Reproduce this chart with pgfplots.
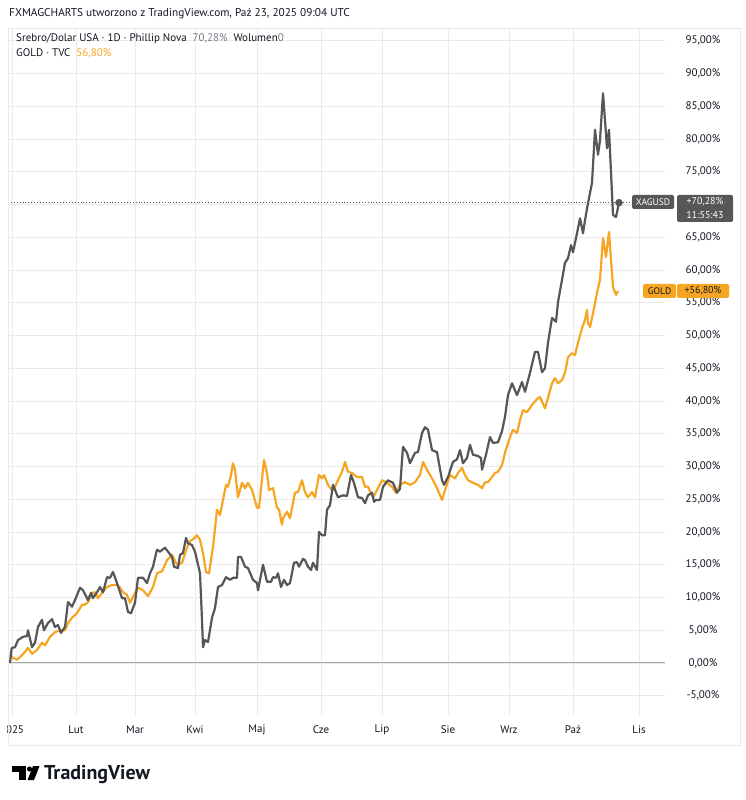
\documentclass[border=0pt]{standalone}
\usepackage{pgfplots}
\pgfplotsset{compat=1.18}
\usepackage{fontspec}
\setmainfont{PT Sans}
\definecolor{silv}{HTML}{575757}
\definecolor{gold}{HTML}{F6A623}
\definecolor{txt}{HTML}{131722}
\definecolor{grd}{HTML}{E8EAEE}
\definecolor{sub}{HTML}{787B86}
\begin{document}
\begin{tikzpicture}
\useasboundingbox (-8pt,-85pt) rectangle (738pt,715pt);
\fill[white] (-8pt,-85pt) rectangle (738pt,715pt);
\begin{scope}
\clip (0pt,-85pt) rectangle (738pt,715pt);
\begin{axis}[
  at={(0pt,0pt)}, anchor=south west,
  width=657pt, height=687pt, scale only axis,
  xmin=8, xmax=665, ymin=-7.94, ymax=96.95,
  axis line style={draw=none}, major tick length=0pt,
  grid=major, major grid style={grd, line width=0.8pt},
  xtick={12,76,135,195,257,321,382,448,509,573,639},
  xticklabels={2025,Lut,Mar,Kwi,Maj,Cze,Lip,Sie,Wrz,Paź,Lis},
  xticklabel style={font=\fontsize{11}{12}\selectfont, text=txt, anchor=center, yshift=-15pt},
  ytick={-5,0,5,10,15,20,25,30,35,40,45,50,55,60,65,70,75,80,85,90,95},
  yticklabels={{-5,00\%},{0,00\%},{5,00\%},{10,00\%},{15,00\%},{20,00\%},{25,00\%},{30,00\%},{35,00\%},{40,00\%},{45,00\%},{50,00\%},{55,00\%},{60,00\%},{65,00\%},{},{75,00\%},{80,00\%},{85,00\%},{90,00\%},{95,00\%}},
  yticklabel pos=right,
  yticklabel style={font=\fontsize{11}{12}\selectfont, text=txt, anchor=center, xshift=38pt},
  clip=true,
]
\addplot[color=gray!70, line width=1pt] coordinates {(8,0) (665,0)};
\addplot[color=silv, dotted, line width=0.9pt] coordinates {(8,70.28) (632,70.28)};
% GOLD
\addplot[color=gold, line width=2.2pt, line join=round] coordinates {
(10,1.2)(13,0.8)(17,0.5)(20,0.9)(25,1.7)(28,2.3)(32,1.4)(37,2.0)(42,3.1)(45,2.7)
(50,4.0)(55,4.7)(60,5.0)(65,5.0)(68,6.1)(72,6.9)(77,7.6)(82,8.9)(85,8.9)(88,9.3)
(92,10.7)(95,10.8)(98,9.9)(102,10.7)(107,11.6)(112,11.9)(117,11.9)(120,11.5)(123,10.8)(127,10.4)
(130,9.2)(133,10.1)(138,11.5)(143,11.1)(148,10.2)(153,11.6)(157,13.7)(162,14.0)(167,15.7)(172,16.5)
(177,15.0)(182,15.3)(187,17.6)(190,18.6)(193,18.9)(197,19.5)(200,18.8)(203,16.8)(206,13.9)(209,13.7)
(213,17.7)(217,23.4)(220,22.6)(223,24.9)(226,27.2)(228,26.9)(231,28.7)(233,30.5)(235,29.5)(238,25.3)
(242,27.5)(245,26.7)(248,27.5)(252,26.4)(257,23.7)(259,23.7)(264,31.0)(267,29.0)(269,26.4)(273,26.7)
(277,23.7)(279,23.4)(282,21.1)(283,22.1)(287,23.1)(290,22.1)(295,26.0)(298,26.1)(302,27.9)(305,26.1)
(308,25.3)(312,26.1)(315,25.3)(319,28.7)(322,28.2)(324,28.7)(328,27.2)(332,26.4)(335,26.9)(338,27.9)
(342,29.2)(345,30.7)(348,29.2)(352,29.0)(357,28.4)(362,28.4)(365,26.9)(368,26.9)(373,25.3)(377,26.4)
(382,27.9)(387,27.5)(392,26.9)(396,26.0)(400,27.2)(405,27.6)(410,27.2)(415,27.6)(420,28.7)(423,30.7)
(427,29.5)(432,28.2)(437,26.7)(442,24.9)(445,26.4)(450,28.7)(455,28.2)(458,29.0)(462,29.8)(465,28.7)
(468,27.9)(473,27.5)(478,27.2)(482,26.7)(485,27.6)(488,27.6)(492,28.4)(495,29.0)(498,29.2)(502,30.2)
(505,32.1)(510,34.5)(513,35.6)(517,35.1)(520,37.1)(523,38.6)(527,38.3)(532,39.4)(537,40.3)(540,40.6)
(545,38.9)(548,40.5)(552,42.7)(555,43.5)(558,42.7)(562,43.2)(565,44.3)(568,46.7)(572,47.3)(575,47.0)
(578,48.9)(582,51.1)(585,52.4)(587,53.9)(588,51.9)(590,51.3)(593,53.4)(597,56.5)(600,58.5)(603,64.9)
(606,62.0)(609,65.8)(613,57.4)(616,56.2)(618,56.8)};
% SILVER
\addplot[color=silv, line width=2.2pt, line join=round] coordinates {
(10,0)(11.7,2.3)(15,2.4)(18,3.5)(23,4.0)(27,4.1)(28,5.0)(32,2.4)(35,3.1)(38,5.5)
(42,6.6)(44,5.0)(48,6.1)(52,6.7)(55,5.5)(58,5.8)(61,4.6)(65,5.5)(68,9.3)(72,8.6)
(75,9.6)(80,11.5)(83,11.1)(88,9.6)(91,10.7)(93,9.9)(97,10.8)(100,11.6)(103,10.8)(107,13.1)
(110,13.0)(113,13.9)(117,12.2)(122,9.9)(125,9.9)(128,7.8)(131,7.6)(135,9.2)(138,13.0)(143,13.0)
(147,12.2)(150,13.7)(153,14.7)(157,17.3)(160,17.0)(165,17.6)(168,17.0)(172,16.2)(174,14.7)(178,14.5)
(180,16.5)(183,16.8)(186,19.1)(188,18.3)(192,18.0)(195,17.0)(200,13.7)(202,6.6)(203,2.4)(205,3.5)
(208,3.2)(212,6.9)(215,8.4)(218,11.6)(222,11.9)(226,13.1)(230,12.7)(233,13.0)(237,13.0)(238,16.2)
(241,16.2)(245,14.7)(248,14.5)(253,12.7)(257,12.2)(258,11.1)(263,15.0)(267,12.4)(271,12.4)(273,13.1)
(276,13.0)(278,13.7)(281,11.6)(284,12.7)(287,11.9)(290,12.2)(294,15.3)(297,15.4)(299,14.7)(303,15.9)
(305,15.7)(308,14.7)(311,14.2)(313,15.3)(317,14.2)(319,20.0)(322,19.5)(325,19.5)(327,23.4)(330,24.1)
(333,27.2)(338,25.3)(343,25.6)(347,25.5)(351,28.7)(354,27.5)(358,25.3)(362,25.2)(365,24.4)(368,25.6)
(372,26.0)(374,24.6)(376,24.9)(380,24.9)(383,26.9)(388,27.9)(393,27.5)(397,26.0)(400,26.6)(403,33.0)
(407,32.1)(410,30.5)(415,32.1)(418,32.2)(422,35.1)(425,36.0)(428,35.6)(432,32.5)(437,32.2)(442,27.9)
(444,27.2)(448,28.4)(453,30.7)(457,31.1)(460,32.5)(463,30.5)(467,31.3)(470,33.3)(473,31.8)(478,31.6)
(481,31.3)(482,29.5)(486,31.8)(490,34.5)(493,33.6)(498,33.7)(502,35.4)(505,37.6)(508,40.9)(512,42.7)
(517,40.9)(522,42.9)(525,41.4)(530,44.3)(535,47.5)(538,47.5)(542,44.4)(545,45.0)(548,48.9)(552,52.7)
(556,52.1)(558,55.1)(562,58.5)(565,61.1)(568,61.8)(571,63.8)(573,62.7)(577,65.6)(580,67.9)(583,65.6)
(585,67.6)(588,70.2)(592,73.3)(595,81.4)(598,77.6)(600,79.8)(603,87.0)(607,78.6)(609,81.4)(613,68.4)
(616,68.1)(619,70.28)};
\addplot[only marks, mark=*, mark size=3.5pt, color=silv] coordinates {(619,70.28)};
\end{axis}
\end{scope}
\begin{scope}[x=1pt,y=1pt,shift={(-8pt,-85pt)}]
\draw[grd, line width=0.8pt] (8,55) rectangle (740,772);
\node[anchor=base west, inner sep=0, font=\fontsize{11.3}{13}\selectfont, text=txt] at (9,783) {FXMAGCHARTS utworzono z TradingView.com, Paź 23, 2025 09:04 UTC};
% legend text
\node[anchor=base west, inner sep=0, font=\fontsize{11}{12}\selectfont, text=txt] at (16,758) {Srebro/Dolar USA · 1D · Phillip Nova\ \ \textcolor{sub}{70,28\%}\ \ Wolumen\textcolor{sub}{0}};
\node[anchor=base west, inner sep=0, font=\fontsize{11}{12}\selectfont, text=txt] at (16,743) {GOLD · TVC\ \ \textcolor{gold}{56,80\%}};
% price labels
\fill[silv, rounded corners=1.5pt] (632,591) rectangle (674,605);
\node[font=\fontsize{9.5}{10}\selectfont, text=white, inner sep=0] at (653,598) {XAGUSD};
\fill[silv, rounded corners=1.5pt] (677,578) rectangle (733,605);
\node[font=\fontsize{10}{11}\selectfont, text=white, inner sep=0] at (705,598.5) {+70,28\%};
\node[font=\fontsize{10}{11}\selectfont, text=white, inner sep=0] at (705,585) {11:55:43};
\fill[gold, rounded corners=1.5pt] (643,502) rectangle (676,516);
\node[font=\fontsize{9.5}{10}\selectfont, text=txt, inner sep=0] at (659.5,509) {GOLD};
\fill[gold, rounded corners=1.5pt] (677,502) rectangle (729,516);
\node[font=\fontsize{10}{11}\selectfont, text=txt, inner sep=0] at (703,509) {+56,80\%};
% TradingView logo
\fill[black] (12,28) rectangle (26,34);
\fill[black] (19,20) rectangle (26,34);
\fill[black] (29.5,31) circle (2.6);
\fill[black] (33,34) -- (39.5,34) -- (34,20) -- (27.5,20) -- cycle;
\node[anchor=base west, inner sep=0, font=\fontsize{20}{22}\selectfont\bfseries, text=txt] at (44,21) {TradingView};
\end{scope}
\end{tikzpicture}
\end{document}
